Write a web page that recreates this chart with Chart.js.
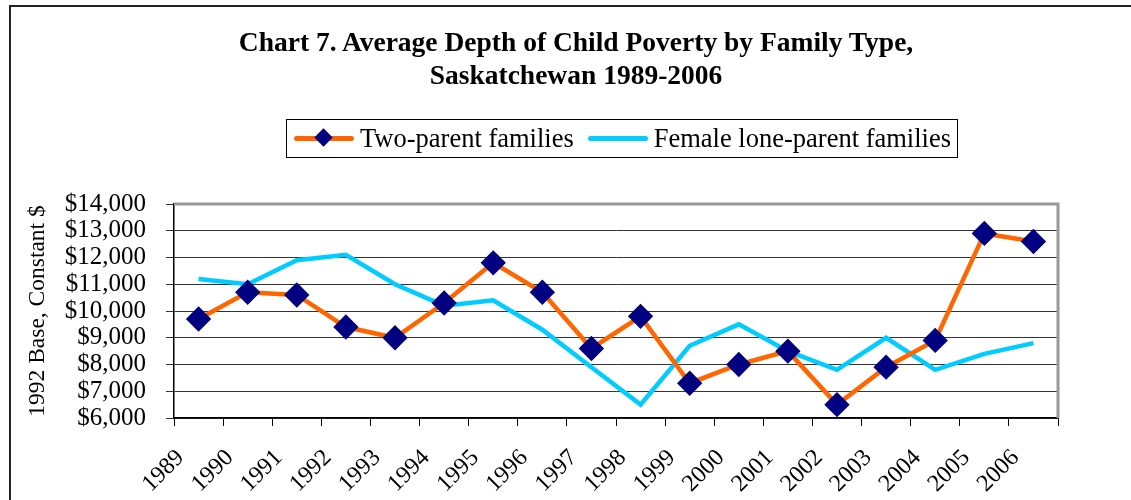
<!DOCTYPE html>
<html>
<head>
    <title>Chart 7. Average Depth of Child Poverty by Family Type</title>
    <script src="https://cdn.jsdelivr.net/npm/chart.js"></script>
    <style>
        body {
            margin: 0;
            background: #ffffff;
            font-family: 'Liberation Serif', 'Times New Roman', serif;
        }
        #wrap {
            position: relative;
            width: 1131px;
            height: 500px;
            overflow: hidden;
        }
        #frame {
            position: absolute;
            left: 9px;
            top: 5px;
            width: 1130px;
            height: 520px;
            border-left: 2px solid #222;
            border-top: 2px solid #222;
            pointer-events: none;
        }
        #title {
            position: absolute;
            left: 0;
            top: 25px;
            width: 1152px;
            text-align: center;
            font-size: 27.5px;
            font-weight: bold;
            line-height: 33px;
            color: #000;
        }
        #legend {
            position: absolute;
            left: 286px;
            top: 119px;
            width: 670px;
            height: 37px;
            border: 1.5px solid #000;
            display: flex;
            align-items: center;
            font-size: 26.5px;
            color: #000;
            white-space: nowrap;
        }
        .sym {
            position: relative;
            display: inline-block;
            width: 60px;
            height: 5px;
            border-radius: 3px;
            margin-right: 6px;
        }
        .diamond {
            position: absolute;
            left: 23px;
            top: -5px;
            width: 13px;
            height: 13px;
            background: #000080;
            transform: rotate(45deg);
        }
        canvas {
            position: absolute;
            left: 0;
            top: 0;
        }
    </style>
</head>
<body>
<div id="wrap">
    <canvas id="chart" width="1131" height="500"></canvas>
    <div id="title">Chart 7. Average Depth of Child Poverty by Family Type,<br>Saskatchewan 1989-2006</div>
    <div id="legend">
        <span class="sym" style="background:#FF6600; margin-left:7px;"><span class="diamond"></span></span>
        <span>Two-parent families</span>
        <span class="sym" style="background:#00CCFF; margin-left:14px;"></span>
        <span>Female lone-parent families</span>
    </div>
    <div id="frame"></div>
</div>

<script>
    // years and values (1992 constant dollars)
    const years = ['1989', '1990', '1991', '1992', '1993', '1994', '1995', '1996', '1997',
                   '1998', '1999', '2000', '2001', '2002', '2003', '2004', '2005', '2006'];
    const twoParent = [9700, 10700, 10600, 9400, 9000, 10300, 11800, 10700, 8600,
                       9800, 7300, 8000, 8500, 6500, 7900, 8900, 12900, 12600];
    const femaleLone = [11200, 11000, 11900, 12100, 11000, 10200, 10400, 9300, 7900,
                        6500, 8700, 9500, 8500, 7800, 9000, 7800, 8400, 8800];
    const yTicks = [6000, 7000, 8000, 9000, 10000, 11000, 12000, 13000, 14000];

    const serif = "'Liberation Serif', 'Times New Roman', serif";

    // grey plot-area border on top and right, like the Excel original
    const plotBorder = {
        id: 'plotBorder',
        afterDraw(chart) {
            const a = chart.chartArea;
            const c = chart.ctx;
            c.save();
            c.strokeStyle = '#999999';
            c.lineWidth = 3;
            c.beginPath();
            c.moveTo(a.left, a.top);
            c.lineTo(a.right, a.top);
            c.lineTo(a.right, a.bottom);
            c.stroke();
            c.restore();
        }
    };

    const ctx = document.getElementById('chart').getContext('2d');
    new Chart(ctx, {
        type: 'line',
        data: {
            labels: years,
            datasets: [
                {
                    label: 'Two-parent families',
                    data: twoParent,
                    borderColor: '#FF6600',
                    borderWidth: 4.5,
                    pointStyle: 'rectRot',
                    pointRadius: 9.5,
                    pointBackgroundColor: '#000080',
                    pointBorderColor: '#000080',
                    tension: 0
                },
                {
                    label: 'Female lone-parent families',
                    data: femaleLone,
                    borderColor: '#00CCFF',
                    borderWidth: 4.5,
                    pointRadius: 0,
                    tension: 0
                }
            ]
        },
        options: {
            responsive: false,
            animation: false,
            layout: {
                padding: { top: 204, left: 0, right: 73, bottom: 0 }
            },
            plugins: {
                legend: { display: false },
                tooltip: { enabled: false },
                title: { display: false }
            },
            scales: {
                x: {
                    offset: true,
                    afterFit(scale) { scale.height = 82; },
                    grid: {
                        offset: true,
                        drawOnChartArea: false,
                        color: '#000',
                        tickLength: 8
                    },
                    border: { color: '#000', width: 1.5 },
                    ticks: {
                        color: '#000',
                        font: { family: serif, size: 24 },
                        minRotation: 45,
                        maxRotation: 45,
                        autoSkip: false,
                        padding: 18,
                        labelOffset: -18
                    }
                },
                y: {
                    min: 6000,
                    max: 14000,
                    afterBuildTicks(axis) {
                        axis.ticks = yTicks.map(v => ({ value: v }));
                    },
                    afterFit(scale) { scale.width = 174; },
                    grid: {
                        color: '#333',
                        lineWidth: 1,
                        tickLength: 8
                    },
                    border: { color: '#000', width: 1.5 },
                    ticks: {
                        color: '#000',
                        font: { family: serif, size: 25 },
                        padding: 20,
                        autoSkip: false,
                        callback: v => '$' + v.toLocaleString('en-US')
                    },
                    title: {
                        display: true,
                        text: '1992 Base, Constant $',
                        color: '#000',
                        font: { family: serif, size: 23.5 },
                        padding: { top: 24, bottom: 0 }
                    }
                }
            }
        },
        plugins: [plotBorder]
    });
</script>
</body>
</html>
